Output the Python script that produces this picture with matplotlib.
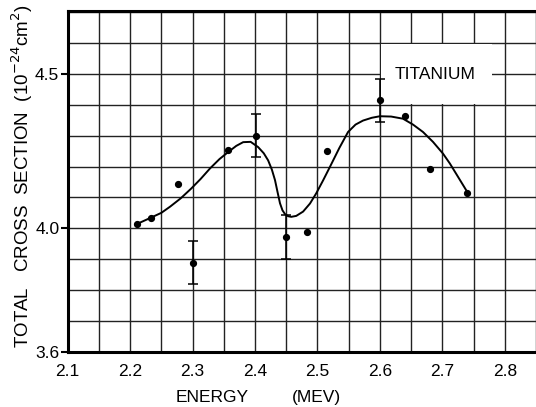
import matplotlib
matplotlib.use('Agg')
import matplotlib.pyplot as plt
from matplotlib.patches import Rectangle
from matplotlib.ticker import MultipleLocator, FixedLocator

plt.rcParams['font.family'] = ['Liberation Sans', 'DejaVu Sans']

# measured points (MeV, barns)
energy = [2.211, 2.234, 2.276, 2.301, 2.357, 2.402, 2.450, 2.483, 2.516,
          2.600, 2.640, 2.681, 2.740]
sigma = [4.015, 4.034, 4.144, 3.889, 4.252, 4.300, 3.971, 3.989, 4.249,
         4.415, 4.363, 4.193, 4.115]

# points that carry error bars
err_energy = [2.301, 2.402, 2.450, 2.600]
err_sigma = [3.889, 4.300, 3.971, 4.415]
err_size = [0.07, 0.07, 0.072, 0.07]

# hand drawn curve
curve_e = [2.210, 2.234, 2.250, 2.264, 2.281, 2.298, 2.313, 2.328, 2.343,
           2.357, 2.370, 2.381, 2.393, 2.405, 2.414, 2.421, 2.427, 2.432,
           2.436, 2.440, 2.444, 2.448, 2.453, 2.458, 2.466, 2.477, 2.488,
           2.498, 2.509, 2.520, 2.535, 2.549, 2.561, 2.573, 2.587, 2.600,
           2.618, 2.637, 2.653, 2.669, 2.685, 2.701, 2.712, 2.722, 2.738]
curve_s = [4.013, 4.035, 4.050, 4.070, 4.097, 4.129, 4.160, 4.194, 4.224,
           4.247, 4.267, 4.279, 4.280, 4.263, 4.243, 4.220, 4.190, 4.156,
           4.118, 4.081, 4.058, 4.046, 4.039, 4.037, 4.040, 4.054, 4.080,
           4.113, 4.155, 4.199, 4.260, 4.312, 4.336, 4.349, 4.358, 4.363,
           4.362, 4.355, 4.336, 4.312, 4.280, 4.242, 4.210, 4.177, 4.124]

xticks = [2.1, 2.2, 2.3, 2.4, 2.5, 2.6, 2.7, 2.8]
yticks = [3.6, 4.0, 4.5]

fig = plt.figure(figsize=(5.36, 4.07), dpi=100)
ax = fig.add_axes([0.1263, 0.1359, 0.8737, 0.8378])

ax.set_xlim(2.1, 2.85)
ax.set_ylim(3.6, 4.705)

ax.xaxis.set_major_locator(FixedLocator(xticks))
ax.xaxis.set_minor_locator(MultipleLocator(0.05))
ax.yaxis.set_major_locator(FixedLocator(yticks))
ax.yaxis.set_minor_locator(MultipleLocator(0.1))
ax.set_xticklabels([str(t) for t in xticks])
ax.set_yticklabels([str(t) for t in yticks])
ax.grid(True, which='both', color='#222222', lw=1.0)
ax.set_axisbelow(True)
ax.tick_params(axis='x', which='both', length=0, pad=9, labelsize=12.5)
ax.tick_params(axis='y', which='major', length=5, width=1.5, pad=1,
               labelsize=12.5)
ax.tick_params(axis='y', which='minor', length=0)

for side in ('left', 'bottom', 'top'):
    ax.spines[side].set_linewidth(2.2)
ax.spines['right'].set_visible(False)

# blank patch behind the label
ax.add_patch(Rectangle((2.602, 4.404), 0.178, 0.192, facecolor='white',
                       edgecolor='none', zorder=1.5))
ax.text(2.689, 4.498, 'TITANIUM', ha='center', va='center', fontsize=12.5,
        zorder=3)

ax.plot(curve_e, curve_s, color='black', lw=1.4, zorder=3)
ax.plot(energy, sigma, 'o', color='black', ms=4.2, zorder=4)
ax.errorbar(err_energy, err_sigma, yerr=err_size, fmt='none',
            ecolor='black', elinewidth=1.1, capsize=3.5, capthick=1.1,
            zorder=4)

fig.text(212 / 536, 1 - 402 / 407, 'ENERGY', ha='center', va='baseline',
         fontsize=12.5)
fig.text(316 / 536, 1 - 402 / 407, '(MEV)', ha='center', va='baseline',
         fontsize=12.5)
fig.text(22 / 536, 1 - 176 / 407,
         'TOTAL   CROSS  SECTION  (10$^{-24}$cm$^{2}$)',
         rotation=90, ha='center', va='center', fontsize=13.5)

fig.savefig('out.png', dpi=100)
